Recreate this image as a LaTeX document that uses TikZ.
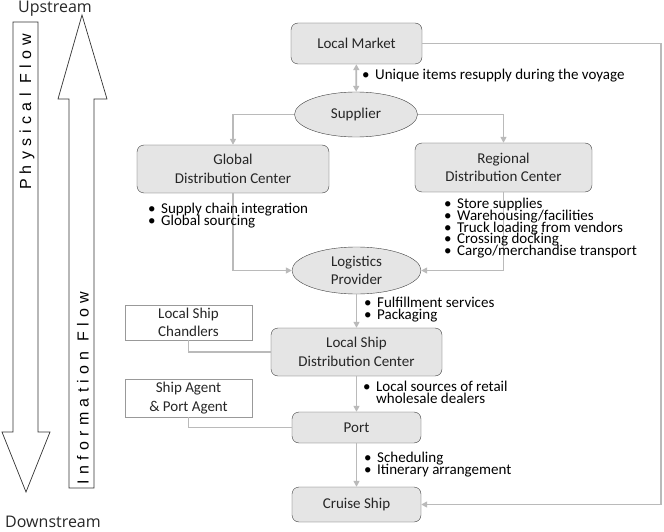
\documentclass[tikz,border=0pt]{standalone}
\usepackage{fontspec}
\setmainfont{Carlito}
\newfontfamily\flowfont[LetterSpace=33]{Liberation Sans}
\newfontfamily\endfont{Open Sans}
\usetikzlibrary{shapes.geometric,arrows.meta}

\newcommand\itm{\makebox[13pt][l]{\textbullet}}
\newcommand\gap{\hspace*{13pt}}
\newcommand\notefont{\fontsize{15}{11.7}\selectfont\setlength{\lineskiplimit}{-20pt}}

\tikzset{
  stage/.style={draw=black!75, fill=black!10, rounded corners=7pt, inner sep=0pt,
    align=center, text=black!85, font=\fontsize{15}{18.5}\selectfont},
  hub/.style={ellipse, draw=black!75, fill=black!10, inner sep=0pt,
    align=center, text=black!85, font=\fontsize{15}{18.5}\selectfont},
  agent/.style={draw=black!40, fill=white, inner sep=0pt,
    align=center, text=black!85, font=\fontsize{15}{18.5}\selectfont},
  link/.style={draw=black!27, line width=1.8pt},
  tip/.style={-{Triangle[length=6pt,width=6pt]}},
  note/.style={anchor=north west, inner sep=0pt, align=left, font=\notefont},
  bigarrow/.style={draw=black!80, line width=0.7pt, fill=white},
}

\begin{document}
\begin{tikzpicture}[x=1pt,y=-1pt]
    \useasboundingbox (0,0) rectangle (664,532);

    % flow arrows
    \draw [bigarrow] (13,22) -- (38,22) -- (38,432) -- (50,432) -- (26,492) -- (2,432) -- (13,432) -- cycle;
    \draw [bigarrow] (69,488) -- (94,488) -- (94,99) -- (107,99) -- (82,15) -- (58,99) -- (69,99) -- cycle;
    \node [rotate=90, font=\flowfont\fontsize{16}{18}\selectfont] (phys) at (27,112) {Physical Flow};
    \node [rotate=90, font=\flowfont\fontsize{16}{18}\selectfont] (info) at (83,388) {Information Flow};
    \node [font=\endfont\fontsize{16}{18}\selectfont, text=black!85] (up) at (55,9) {Upstream};
    \node [font=\endfont\fontsize{16}{18}\selectfont, text=black!85] (down) at (53,522) {Downstream};

    % chain
    \node [stage, minimum width=131pt, minimum height=41pt] (market)    at (356.5,43.5)  {Local Market};
    \node [hub,   minimum width=123pt, minimum height=45pt] (supplier)  at (356,114.5)   {Supplier};
    \node [stage, minimum width=192pt, minimum height=48pt] (global)    at (233,169)     {Global\\Distribution Center};
    \node [stage, minimum width=177pt, minimum height=49pt] (regional)  at (503.5,167.5) {Regional\\Distribution Center};
    \node [hub,   minimum width=129pt, minimum height=47pt] (logistics) at (356.5,270.5) {Logistics\\Provider};
    \node [stage, minimum width=171pt, minimum height=48pt] (lsdc)      at (356.5,352)   {Local Ship\\Distribution Center};
    \node [agent, minimum width=127pt, minimum height=35pt] (chandlers) at (188.5,322.5) {Local Ship\\Chandlers};
    \node [agent, minimum width=127pt, minimum height=38pt] (shipagent) at (188.5,398)   {Ship Agent\\\& Port Agent};
    \node [stage, minimum width=129pt, minimum height=31pt] (port)      at (356.5,427.5) {Port};
    \node [stage, minimum width=129pt, minimum height=35pt] (cruise)    at (356.5,504.5) {Cruise Ship};
    \coordinate (rim) at (661,43.5);

    % links
    \draw [link, {Triangle[length=6pt,width=6pt]}-{Triangle[length=6pt,width=6pt]}] (market) -- (supplier);
    \draw [link, tip] (supplier.west) -| (global.north);
    \draw [link, tip] (supplier.east) -| (regional.north);
    \draw [link, tip] (global.south) |- (logistics.west);
    \draw [link, tip] (regional.south) |- (logistics.east);
    \draw [link, tip] (logistics) -- (lsdc);
    \draw [link] (chandlers.south) |- (lsdc.west);
    \draw [link, tip] (lsdc) -- (port);
    \draw [link] (shipagent.south) |- (port.west);
    \draw [link, tip] (port) -- (cruise);
    \draw [link, tip] (market.east) -- (rim) |- (cruise.east);

    % notes
    \node [note] (n-market)    at (362,69)  {\itm Unique items resupply during the voyage};
    \node [note] (n-global)    at (148,203) {\itm Supply chain integration\\\itm Global sourcing};
    \node [note] (n-regional)  at (444,198) {\itm Store supplies\\\itm Warehousing/facilities\\\itm Truck loading from vendors\\\itm Crossing docking\\\itm Cargo/merchandise transport};
    \node [note] (n-logistics) at (364,297) {\itm Fulfillment services\\\itm Packaging};
    \node [note] (n-lsdc)      at (363,381) {\itm Local sources of retail\\\gap wholesale dealers};
    \node [note] (n-port)      at (364,452) {\itm Scheduling\\\itm Itinerary arrangement};
\end{tikzpicture}
\end{document}
